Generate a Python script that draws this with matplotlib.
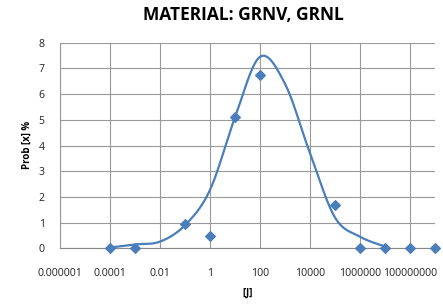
import matplotlib
matplotlib.use("Agg")
import matplotlib.pyplot as plt
import matplotlib.ticker as ticker
import numpy as np

# measured points (energy [J], probability %)
energy = [1e-4, 1e-3, 1e-1, 1, 10, 100, 1e5, 1e6, 1e7, 1e8, 1e9]
prob = [0, 0, 0.95, 0.47, 5.1, 6.75, 1.7, 0, 0, 0, 0]

# fitted curve, one value per decade
fit_energy = [1e-4, 1e-3, 1e-2, 1e-1, 1, 10, 100, 1e3, 1e4, 1e5, 1e6, 1e7]
fit_prob = [0.03, 0.15, 0.26, 0.9, 2.27, 5.1, 7.45, 6.4, 3.7, 1.2, 0.45, 0.07]

tick_vals = [1e-6, 1e-4, 1e-2, 1, 1e2, 1e4, 1e6, 1e8]
tick_labels = ["0.000001", "0.0001", "0.01", "1", "100", "10000", "1000000", "100000000"]

blue = "#4a7ebb"
plt.rcParams['font.family'] = ['Open Sans', 'DejaVu Sans']


def smooth(xs, ys, n=30):
    # excel-like smoothing (catmull-rom), done in log10 x
    px = np.log10(xs)
    py = np.array(ys, dtype=float)
    px = np.concatenate([[px[0]], px, [px[-1]]])
    py = np.concatenate([[py[0]], py, [py[-1]]])
    outx, outy = [], []
    for i in range(1, len(px) - 2):
        p0, p1, p2, p3 = [np.array([px[j], py[j]]) for j in range(i - 1, i + 3)]
        c1 = p1 + (p2 - p0) / 6
        c2 = p2 - (p3 - p1) / 6
        t = np.linspace(0, 1, n)[:, None]
        b = (1 - t) ** 3 * p1 + 3 * (1 - t) ** 2 * t * c1 + 3 * (1 - t) * t ** 2 * c2 + t ** 3 * p2
        outx.extend(b[:, 0])
        outy.extend(b[:, 1])
    return 10 ** np.array(outx), np.array(outy)


fig = plt.figure(figsize=(4.43, 3.08), dpi=100)
ax = fig.add_axes([60 / 443, 1 - 248.3 / 308, 375 / 443, 205.6 / 308])

cx, cy = smooth(fit_energy, fit_prob)
ax.plot(cx, cy, color=blue, lw=1.6, zorder=3)
ax.scatter(energy, prob, marker="D", s=24, color=blue, zorder=4, clip_on=False)

ax.set_xscale("log")
ax.set_xlim(1e-6, 1e9)
ax.set_ylim(0, 8)
ax.xaxis.set_major_locator(ticker.FixedLocator(tick_vals))
ax.xaxis.set_minor_locator(ticker.NullLocator())
ax.set_xticklabels(tick_labels)
ax.set_yticks(range(0, 9))
ax.tick_params(length=0, labelsize=7.6, colors="#222222")
ax.tick_params(axis="x", pad=14)
ax.tick_params(axis="y", pad=11)

ax.grid(True, color="#999999", lw=0.8)
ax.set_axisbelow(True)
for s in ["top", "right"]:
    ax.spines[s].set_visible(False)
ax.spines["left"].set_color("#999999")
ax.spines["left"].set_linewidth(0.8)
ax.spines["bottom"].set_color("#888888")

fig.text(243 / 443, 1 - 15 / 308, "MATERIAL: GRNV, GRNL", ha="center", va="center",
         fontsize=12.5, fontweight="bold")
fig.text(27 / 443, 1 - 145 / 308, "Prob [x] %", rotation=90, ha="center", va="center",
         fontsize=7, fontweight="bold")
fig.text(248 / 443, 1 - 293 / 308, "[J]", ha="center", va="center",
         fontsize=7, fontweight="bold")

fig.savefig("out.png", dpi=100)
